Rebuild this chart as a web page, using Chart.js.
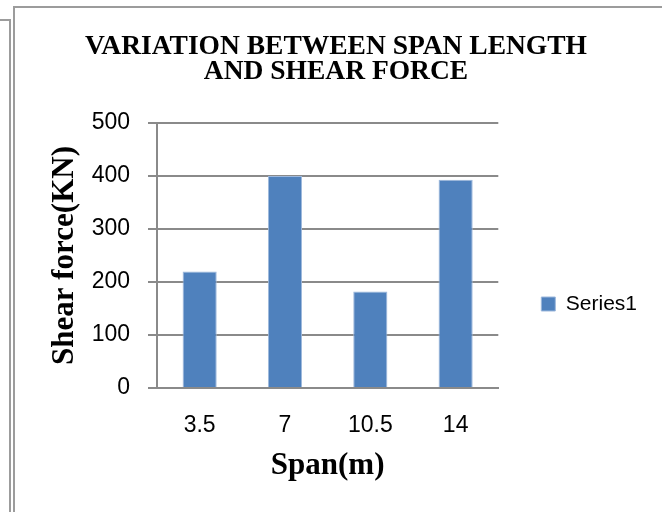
<!DOCTYPE html>
<html>
<head>
<meta charset="utf-8">
<script src="https://cdn.jsdelivr.net/npm/chart.js@4.4.0/dist/chart.umd.min.js"></script>
<style>
  body { margin: 0; background: #fff; }
  .wrap { position: relative; width: 662px; height: 512px; overflow: hidden; }
  .frame { position: absolute; left: 13px; top: 6px; width: 700px; height: 600px;
    border-left: 2px solid #9c9c9c; border-top: 2px solid #9c9c9c; pointer-events: none; }
  .outer-v { position: absolute; left: 9px; top: 19px; width: 2px; height: 500px; background: #9c9c9c; }
  .outer-h { position: absolute; left: 0; top: 19px; width: 11px; height: 2px; background: #9c9c9c; }
</style>
</head>
<body>
<div class="wrap">
  <canvas id="myChart" width="662" height="512"></canvas>
  <div class="frame"></div>
  <div class="outer-v"></div>
  <div class="outer-h"></div>
</div>
<script>
const spans = ['3.5', '7', '10.5', '14'];
const shearForce = [220, 400, 182, 393];
const yTicks = [0, 100, 200, 300, 400, 500];

const gridGray = '#8a8a8a';
const charts = document.getElementById('myChart');

new Chart(charts, {
  type: 'bar',
  data: {
    labels: spans,
    datasets: [
      {
        label: 'Series1',
        data: shearForce,
        backgroundColor: '#4f81bd',
        borderColor: '#9db8dc',
        borderWidth: 1,
        barPercentage: 0.4,
        categoryPercentage: 1,
      },
    ],
  },
  options: {
    responsive: false,
    animation: false,
    layout: { padding: { left: 25, top: 0, right: 15, bottom: 10 } },
    plugins: {
      title: {
        display: true,
        text: ['VARIATION BETWEEN SPAN LENGTH', 'AND SHEAR FORCE'],
        color: '#000',
        font: { family: "'Liberation Serif', 'Times New Roman', serif", size: 27.5, weight: 'bold', lineHeight: '25px' },
        padding: { top: 34, bottom: 39 },
      },
      legend: {
        position: 'right',
        title: { display: true, text: ' ', font: { size: 10 }, padding: 47 },
        labels: {
          color: '#000',
          font: { family: "'Liberation Sans', Arial, sans-serif", size: 21 },
          boxWidth: 14,
          boxHeight: 14,
          padding: 43,
        },
      },
      tooltip: { enabled: false },
    },
    scales: {
      x: {
        grid: { display: false, drawTicks: false },
        border: { display: true, color: gridGray, width: 2 },
        ticks: {
          color: '#000',
          font: { family: "'Liberation Sans', Arial, sans-serif", size: 23 },
          padding: 24,
        },
        title: {
          display: true,
          text: 'Span(m)',
          color: '#000',
          font: { family: "'Liberation Serif', 'Times New Roman', serif", size: 31, weight: 'bold' },
          padding: { top: 0, bottom: 17 },
        },
        afterFit: (scale) => { scale.height = 114; },
      },
      y: {
        min: 0,
        max: 500,
        afterBuildTicks: (scale) => { scale.ticks = yTicks.map((v) => ({ value: v })); },
        grid: { color: gridGray, lineWidth: 2, tickLength: 9, tickColor: gridGray },
        border: { display: true, color: gridGray, width: 2 },
        ticks: {
          color: '#000',
          font: { family: "'Liberation Sans', Arial, sans-serif", size: 23 },
          padding: 18,
        },
        title: {
          display: true,
          text: 'Shear force(KN)',
          color: '#000',
          font: { family: "'Liberation Serif', 'Times New Roman', serif", size: 31, weight: 'bold' },
          padding: { top: 21, bottom: 0 },
        },
        afterFit: (scale) => { scale.width = 132; },
      },
    },
  },
});
</script>
</body>
</html>
